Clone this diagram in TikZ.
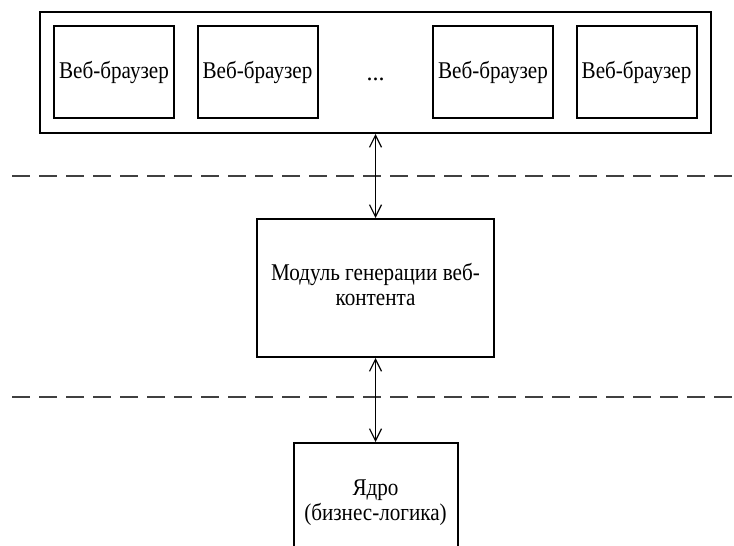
\documentclass[tikz,border=0pt]{standalone}
\usepackage{fontspec}
\setmainfont{Liberation Serif}
\usetikzlibrary{arrows.meta}
\newcommand{\narrowtext}[1]{\scalebox{0.88}[1]{#1}}
\tikzset{
  frame/.style={draw, line width=2pt, inner sep=0pt},
  browser/.style={frame, minimum width=120pt, minimum height=92pt, font=\fontsize{24}{26}\selectfont},
  block/.style={frame, align=center, font=\fontsize{24}{25}\selectfont},
  layer/.style={line width=2.2pt, draw=black!75, dash pattern=on 18pt off 9pt},
  link/.style={line width=1.2pt, {Straight Barb[length=12pt,width=12pt]}-{Straight Barb[length=12pt,width=12pt]}}
}
\begin{document}
\begin{tikzpicture}[x=1pt,y=-1pt]
  \clip (0,0) rectangle (734,546);
  \fill[white] (0,0) rectangle (734,546);

  % client tier
  \node[frame, minimum width=671pt, minimum height=121pt] (clients) at (375.5,72.5) {};
  \node[browser] (b1) at (114,72) {\narrowtext{Веб-браузер}};
  \node[browser] (b2) at (257.5,72) {\narrowtext{Веб-браузер}};
  \node[anchor=base, font=\fontsize{24}{26}\selectfont] (dots) at (375.5,80) {...};
  \node[browser] (b3) at (493,72) {\narrowtext{Веб-браузер}};
  \node[browser] (b4) at (636.5,72) {\narrowtext{Веб-браузер}};

  % tier boundaries
  \draw[layer] (12,176) -- (734,176);
  \draw[layer] (12,397) -- (734,397);

  % server side
  \node[block, minimum width=237pt, minimum height=138pt] (web) at (375.5,288)
    {\narrowtext{\begin{tabular}{@{}c@{}}Модуль генерации веб-\\контента\end{tabular}}};
  \node[block, minimum width=164pt, minimum height=120pt] (core) at (375.5,503)
    {\narrowtext{\begin{tabular}{@{}c@{}}Ядро\\(бизнес-логика)\end{tabular}}};

  % connectors
  \draw[link] (clients.south) -- (web.north);
  \draw[link] (web.south) -- (core.north);
\end{tikzpicture}
\end{document}
